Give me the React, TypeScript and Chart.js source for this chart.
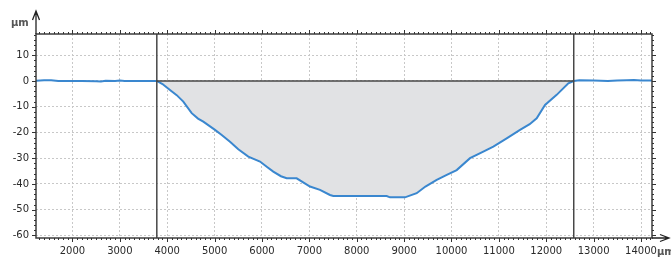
import React, { useEffect, useRef } from "react";
import { Chart, registerables } from "chart.js";

Chart.register(...registerables);

// Profile (x in µm, depth in µm)
const profileX = [
  1230, 1400, 1550, 1700, 1900, 2200, 2500, 2600, 2700, 2900, 3000, 3100, 3400, 3600, 3780,
  3900, 4058, 4200, 4339, 4516, 4650, 4761, 5008, 5150, 5325, 5500, 5711, 5958, 6100, 6238,
  6400, 6521, 6732, 7013, 7224, 7435, 7505, 8000, 8632, 8702, 9018, 9265, 9450, 9688, 9900,
  10110, 10391, 10650, 10883, 11165, 11446, 11650, 11798, 11974, 12220, 12466, 12580,
  12700, 13000, 13300, 13500, 13700, 13850, 14000, 14232,
];
const profileY = [
  0.1, 0.3, 0.3, 0.0, 0.0, 0.0, -0.1, -0.2, 0.1, 0.0, 0.2, 0.0, 0.0, 0.0, 0.0,
  -1.2, -3.5, -5.5, -8.0, -12.5, -14.6, -15.8, -19.0, -21.0, -23.6, -26.5, -29.4, -31.3, -33.3, -35.2,
  -37.0, -37.8, -37.8, -41.0, -42.3, -44.3, -44.7, -44.7, -44.7, -45.2, -45.2, -43.6, -41.0, -38.4, -36.5,
  -34.6, -30.0, -27.6, -25.5, -22.3, -19.0, -16.8, -14.5, -9.3, -5.4, -0.9, 0.0,
  0.3, 0.2, 0.0, 0.2, 0.3, 0.4, 0.2, 0.2,
];
const markerLeft = 3780;
const markerRight = 12580;

const xTicks = [2000, 3000, 4000, 5000, 6000, 7000, 8000, 9000, 10000, 11000, 12000, 13000, 14000];
const yTicks = [10, 0, -10, -20, -30, -40, -50, -60];
const xMin = 1230;
const xMax = 14232;
const yMin = -61;
const yMax = 18.25;
const unitLabel = "µm";

const FONT = "'DejaVu Sans', sans-serif";

const framePlugin = {
  id: "frame",
  afterDraw(chart: any) {
    const ctx = chart.ctx;
    const { left, top, right, bottom } = chart.chartArea;
    const xs = chart.scales.x;
    const ys = chart.scales.y;
    ctx.save();
    ctx.strokeStyle = "#3c3c3c";
    ctx.lineWidth = 1.5;
    ctx.strokeRect(left, top, right - left, bottom - top);
    ctx.lineWidth = 1;
    ctx.strokeStyle = "#333";
    ctx.beginPath();
    // x ticks (minor every 100, major every 1000)
    for (let v = Math.ceil(xMin / 100) * 100; v <= xMax; v += 100) {
      const px = Math.round(xs.getPixelForValue(v)) + 0.5;
      const len = v % 1000 === 0 ? 4 : 2;
      ctx.moveTo(px, bottom);
      ctx.lineTo(px, bottom + len);
      ctx.moveTo(px, top);
      ctx.lineTo(px, top - len);
    }
    // y ticks (minor every 2, major every 10)
    for (let v = -60; v <= yMax; v += 2) {
      const py = Math.round(ys.getPixelForValue(v)) + 0.5;
      const len = v % 10 === 0 ? 4 : 2;
      ctx.moveTo(left, py);
      ctx.lineTo(left - len, py);
      ctx.moveTo(right, py);
      ctx.lineTo(right + len, py);
    }
    ctx.stroke();
    // axis arrows
    ctx.strokeStyle = "#222";
    ctx.lineWidth = 1.3;
    ctx.beginPath();
    ctx.moveTo(left, top);
    ctx.lineTo(left, 12);
    ctx.moveTo(left - 3.5, 20);
    ctx.lineTo(left, 11);
    ctx.lineTo(left + 3.5, 20);
    ctx.moveTo(right, bottom);
    ctx.lineTo(668, bottom);
    ctx.moveTo(660, bottom - 3.5);
    ctx.lineTo(669, bottom);
    ctx.lineTo(660, bottom + 3.5);
    ctx.stroke();
    ctx.font = `bold 10px ${FONT}`;
    ctx.fillStyle = "#555";
    ctx.textBaseline = "middle";
    ctx.textAlign = "left";
    ctx.fillText(unitLabel, 11, 23);
    ctx.fillText(unitLabel, 657, 252);
    ctx.restore();
  },
};

export default function App() {
  const ref = useRef<HTMLCanvasElement | null>(null);
  useEffect(() => {
    if (!ref.current) return;
    const profile = profileX.map((x, i) => ({ x, y: profileY[i] }));
    const gridCfg = {
      color: "#c8c8c8",
      lineWidth: 1,
      drawTicks: true,
      tickLength: 4,
      tickColor: "rgba(0,0,0,0)",
    };
    const markerStyle = {
      borderColor: "#474747",
      borderWidth: 1.5,
      pointRadius: 0,
      fill: false,
      order: 1,
    };
    const chart = new Chart(ref.current, {
      type: "line",
      data: {
        datasets: [
          {
            data: profile,
            borderColor: "#3a87cf",
            borderWidth: 2,
            pointRadius: 0,
            tension: 0,
            fill: { target: { value: 0 }, above: "rgba(0,0,0,0)", below: "#e1e2e4" },
            order: 2,
          },
          {
            data: [
              { x: markerLeft, y: 0 },
              { x: markerRight, y: 0 },
            ],
            ...markerStyle,
          },
          {
            data: [
              { x: markerLeft, y: yMin },
              { x: markerLeft, y: yMax },
            ],
            ...markerStyle,
          },
          {
            data: [
              { x: markerRight, y: yMin },
              { x: markerRight, y: yMax },
            ],
            ...markerStyle,
          },
        ],
      },
      options: {
        animation: false,
        responsive: false,
        maintainAspectRatio: false,
        layout: { padding: { top: 34, right: 19, left: 0, bottom: 0 } },
        plugins: { legend: { display: false }, tooltip: { enabled: false } },
        scales: {
          x: {
            type: "linear",
            min: xMin,
            max: xMax,
            afterBuildTicks: (s: any) => {
              s.ticks = xTicks.map((v) => ({ value: v }));
            },
            afterFit: (s: any) => {
              s.height = 21;
            },
            grid: gridCfg,
            border: { display: false, dash: [2, 2] },
            ticks: {
              color: "#2a2a2a",
              font: { family: FONT, size: 10 },
              padding: 3,
              maxRotation: 0,
              autoSkip: false,
              callback: (v: any) => String(v),
            },
          },
          y: {
            type: "linear",
            min: yMin,
            max: yMax,
            afterBuildTicks: (s: any) => {
              s.ticks = yTicks.map((v) => ({ value: v }));
            },
            afterFit: (s: any) => {
              s.width = 36;
            },
            grid: gridCfg,
            border: { display: false, dash: [2, 2] },
            ticks: {
              color: "#2a2a2a",
              font: { family: FONT, size: 10 },
              padding: 3,
              autoSkip: false,
              callback: (v: any) => String(v),
            },
          },
        },
      },
      plugins: [framePlugin],
    });
    return () => chart.destroy();
  }, []);
  return (
    <div style={{ position: "fixed", left: 0, top: 0, width: 671, height: 259, background: "#fff" }}>
      <canvas ref={ref} width={671} height={259} style={{ width: 671, height: 259 }} />
    </div>
  );
}
